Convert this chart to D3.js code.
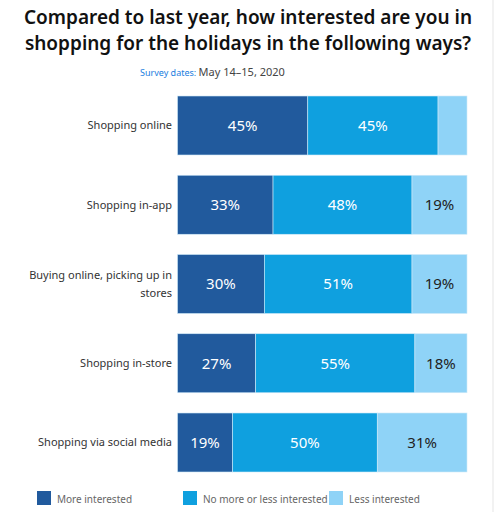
<!DOCTYPE html>
<html>
<head>
<meta charset="utf-8">
<script src="https://cdn.jsdelivr.net/npm/d3@7"></script>
<style>
  body { margin: 0; background: #fff; }
  svg { font-family: "Noto Sans", "Open Sans", sans-serif; }
</style>
</head>
<body>
<svg id="chart" width="495" height="512"></svg>
<script>
// data
const categories = [
  ["Shopping online"],
  ["Shopping in-app"],
  ["Buying online, picking up in", "stores"],
  ["Shopping in-store"],
  ["Shopping via social media"]
];
const moreInterested = [45, 33, 30, 27, 19];
const noMoreOrLess = [45, 48, 51, 55, 50];
const lessInterested = [10, 19, 19, 18, 31];
const showLabel = [[true, true, false], [true, true, true], [true, true, true], [true, true, true], [true, true, true]];
const seriesNames = ["More interested", "No more or less interested", "Less interested"];
const colors = ["#215a9d", "#0fa0df", "#8fd3f7"];
const labelColors = ["#ffffff", "#ffffff", "#222222"];

const svg = d3.select("#chart");
const margin = { left: 177.5, right: 28, top: 96, bottom: 472 };
const W = 495;

// title
const title = svg.append("text")
  .attr("text-anchor", "middle")
  .attr("font-size", 19)
  .attr("font-weight", 600)
  .attr("fill", "#111");
title.append("tspan").attr("x", 248).attr("y", 24).text("Compared to last year, how interested are you in");
title.append("tspan").attr("x", 248).attr("y", 50).text("shopping for the holidays in the following ways?");

const sub = svg.append("text").attr("x", 140).attr("y", 76);
sub.append("tspan").attr("font-size", 9).attr("fill", "#1a7ee0").text("Survey dates: ");
sub.append("tspan").attr("font-size", 11).attr("fill", "#444").text("May 14\u201315, 2020");

const rows = categories.map((c, i) => ({
  cat: c,
  vals: [moreInterested[i], noMoreOrLess[i], lessInterested[i]],
  idx: i
}));

const x = d3.scaleLinear().domain([0, 100]).range([margin.left, W - margin.right]);
const y = d3.scaleBand().domain(d3.range(rows.length)).range([margin.top, margin.bottom]).paddingInner(0.2555).paddingOuter(0);

rows.forEach(r => {
  let acc = 0;
  const g = svg.append("g");
  r.vals.forEach((v, j) => {
    const x0 = x(acc), x1 = x(acc + v);
    g.append("rect")
      .attr("x", x0)
      .attr("y", y(r.idx))
      .attr("width", x1 - x0)
      .attr("height", y.bandwidth())
      .attr("fill", colors[j])
      .attr("stroke", "#cfe9f8")
      .attr("stroke-width", 0.6);
    if (showLabel[r.idx][j]) {
      g.append("text")
        .attr("x", (x0 + x1) / 2)
        .attr("y", y(r.idx) + y.bandwidth() / 2)
        .attr("dy", "0.36em")
        .attr("text-anchor", "middle")
        .attr("font-size", 15)
        .attr("fill", labelColors[j])
        .text(v + "%");
    }
    acc += v;
  });

  const lab = g.append("text")
    .attr("text-anchor", "end")
    .attr("font-size", 11)
    .attr("fill", "#333");
  const cy = y(r.idx) + y.bandwidth() / 2;
  const n = r.cat.length;
  r.cat.forEach((line, k) => {
    lab.append("tspan")
      .attr("x", 172)
      .attr("y", cy + (k - (n - 1) / 2) * 18)
      .attr("dy", "0.36em")
      .text(line);
  });
});

// legend
const legendX = [37, 183, 329];
seriesNames.forEach((name, j) => {
  svg.append("rect")
    .attr("x", legendX[j]).attr("y", 491)
    .attr("width", 14).attr("height", 14)
    .attr("fill", colors[j]);
  svg.append("text")
    .attr("x", legendX[j] + 20).attr("y", 503)
    .attr("font-size", 10)
    .attr("fill", "#666")
    .text(name);
});

// faint frame edge on the right
svg.append("line")
  .attr("x1", 493).attr("x2", 493).attr("y1", 0).attr("y2", 512)
  .attr("stroke", "#eeeeee").attr("stroke-width", 1.5);
</script>
</body>
</html>
